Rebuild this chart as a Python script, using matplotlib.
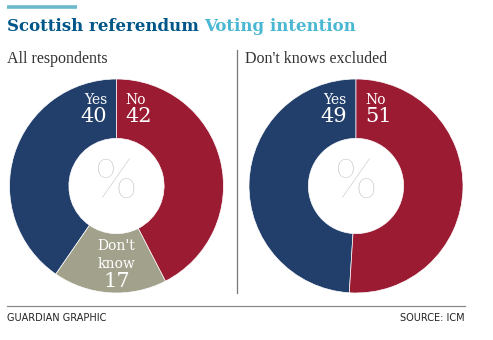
import matplotlib.pyplot as plt

W, H = 493, 340

# Poll figures, per cent
all_labels = ['Yes', "Don't", 'know', 'No']
all_values = [40, 17, 42]
excl_labels = ['Yes', 'No']
excl_values = [49, 51]

title_main = 'Scottish referendum'
title_sub = 'Voting intention'
panel_titles = ['All respondents', "Don't knows excluded"]

YES = '#223f6b'
NO = '#9b1b33'
DK = '#a2a28c'
SERIF = ['DejaVu Serif']

fig = plt.figure(figsize=(W / 100, H / 100), dpi=100)
bg = fig.add_axes([0, 0, 1, 1])
bg.set_xlim(0, W)
bg.set_ylim(H, 0)
bg.axis('off')

# header
bg.plot([7, 77], [6.5, 6.5], color='#6bb9cd', lw=2.6, solid_capstyle='butt')
t = bg.text(7, 31, title_main + ' ', color='#005689', fontsize=12,
            fontweight='bold', family=SERIF, va='baseline')
fig.canvas.draw()
bb = t.get_window_extent()
bg.text(7 + bb.width, 31, title_sub, color='#4bb8d3', fontsize=12,
        fontweight='bold', family=SERIF, va='baseline')

bg.text(7, 63, panel_titles[0], color='#333333', fontsize=11.5,
        family=['Liberation Serif'], va='baseline')
bg.text(245, 63, panel_titles[1], color='#333333', fontsize=11.5,
        family=['Liberation Serif'], va='baseline')
bg.plot([236.5, 236.5], [50, 293], color='#777777', lw=0.9)

# footer
bg.plot([7, 465], [305.5, 305.5], color='#888888', lw=0.9)
foot = ['Liberation Sans Narrow', 'DejaVu Sans']
bg.text(7, 318, 'GUARDIAN GRAPHIC', fontsize=7, family=foot,
        color='#222222', va='center')
bg.text(465, 318, 'SOURCE: ICM', fontsize=7, family=foot,
        color='#222222', va='center', ha='right')


def donut(cx, cy, r, values, colors):
    ax = fig.add_axes([(cx - r) / W, 1 - (cy + r) / H, 2 * r / W, 2 * r / H])
    ax.pie(values, colors=colors, startangle=90, counterclock=True,
           radius=1, wedgeprops=dict(width=0.555, edgecolor='white', linewidth=0.5))
    ax.set_xlim(-1, 1)
    ax.set_ylim(-1, 1)
    ax.text(0, 0.03, '%', ha='center', va='center', fontsize=40,
            color='#c2c2c2', family=['Lato', 'DejaVu Sans'], fontweight='light')
    return ax


def label(ax, x, y, name, value, ha):
    ax.text(x, y, name, ha=ha, va='baseline', color='white', fontsize=10,
            family=SERIF)
    ax.text(x, y - 0.17, str(value), ha=ha, va='baseline', color='white',
            fontsize=15, family=SERIF)


left = donut(116.5, 186, 107, all_values, [YES, DK, NO])
label(left, -0.085, 0.77, all_labels[0], all_values[0], 'right')
label(left, 0.085, 0.77, all_labels[3], all_values[2], 'left')
left.text(0, -0.6, all_labels[1], ha='center', va='baseline', color='white',
          fontsize=10, family=SERIF)
left.text(0, -0.77, all_labels[2], ha='center', va='baseline', color='white',
          fontsize=10, family=SERIF)
left.text(0, -0.94, str(all_values[1]), ha='center', va='baseline',
          color='white', fontsize=15, family=SERIF)

right = donut(356, 186, 107, excl_values, [YES, NO])
label(right, -0.085, 0.77, excl_labels[0], excl_values[0], 'right')
label(right, 0.085, 0.77, excl_labels[1], excl_values[1], 'left')

fig.savefig('out.png', dpi=100)
